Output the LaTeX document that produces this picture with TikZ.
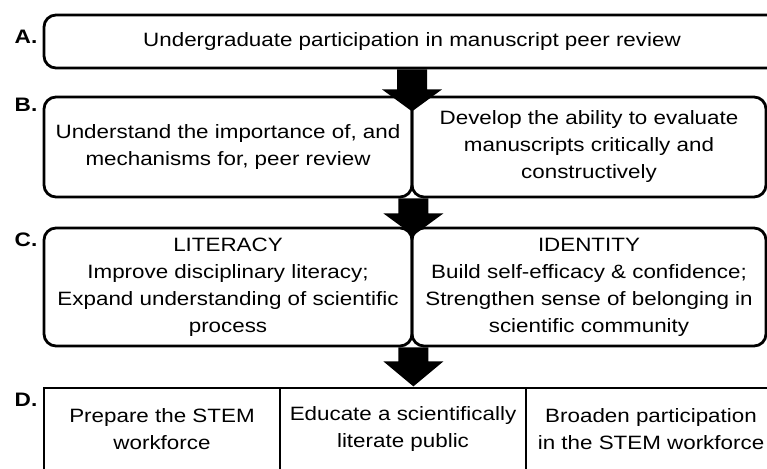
\documentclass[tikz,border=0pt]{standalone}
\usepackage{fontspec}
\setmainfont{Liberation Sans}[FakeStretch=1.16]
\usetikzlibrary{calc}
\newcommand\blockarrow[3]{%
  \fill[black] ($(#1)+(-15,0)$) -- ++(0,#2) -- ++(-15,0) -- ++(30,#3) -- ++(30,-#3) -- ++(-15,0) -- ++(0,-#2) -- cycle;}
\begin{document}
\begin{tikzpicture}[x=1pt,y=-1pt,
  txt/.style={font=\fontsize{19.3}{27}\selectfont},
  rbox/.style={draw, line width=2.8pt, rounded corners=12pt, align=center, inner sep=0pt, txt},
  sbox/.style={draw, line width=2.8pt, align=center, inner sep=0pt, txt},
  lbl/.style={font=\bfseries\fontsize{19.5}{22}\selectfont, inner sep=0pt}]
\useasboundingbox (0,0) rectangle (767,468);
\clip (0,0) rectangle (767,468);
\fill[white] (0,0) rectangle (767,468);
% row A
\node[rbox, minimum width=736pt, minimum height=53pt] (A) at (412,41.5)
  {Undergraduate participation in manuscript peer review};
% row B
\node[rbox, minimum width=368pt, minimum height=100pt] (B1) at (228,147)
  {Understand the importance of, and\\mechanisms for, peer review};
\node[rbox, minimum width=354pt, minimum height=100pt] (B2) at (589,147)
  {Develop the ability to evaluate\\manuscripts critically and\\constructively};
% row C
\node[rbox, minimum width=368pt, minimum height=118pt] (C1) at (228,287)
  {LITERACY\\Improve disciplinary literacy;\\Expand understanding of scientific\\process};
\node[rbox, minimum width=354pt, minimum height=118pt] (C2) at (589,287)
  {IDENTITY\\Build self-efficacy \& confidence;\\Strengthen sense of belonging in\\scientific community};
% row D
\node[sbox, minimum width=236pt, minimum height=82pt] (D1) at (162,429)
  {Prepare the STEM\\workforce};
\node[sbox, minimum width=246pt, minimum height=82pt] (D2) at (403,429)
  {Educate a scientifically\\literate public};
\node[sbox, minimum width=250pt, minimum height=82pt] (D3) at (651,429)
  {Broaden participation\\in the STEM workforce};
% labels
\node[lbl] (LA) at (26,37) {A.};
\node[lbl] (LB) at (26,105) {B.};
\node[lbl] (LC) at (26,240) {C.};
\node[lbl] (LD) at (26,400) {D.};
% arrows
\blockarrow{A.south}{20}{22}
\blockarrow{B1.south east}{15}{22}
\blockarrow{C1.south east}{14}{25}
\end{tikzpicture}
\end{document}
